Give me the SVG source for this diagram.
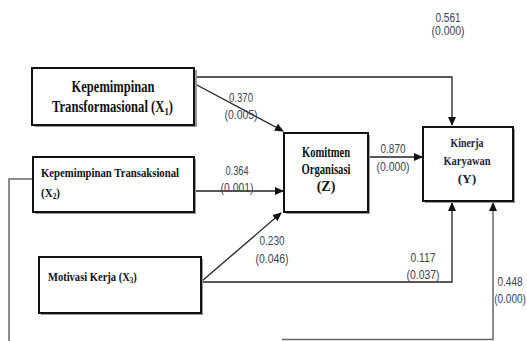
<svg xmlns="http://www.w3.org/2000/svg" width="527" height="341" viewBox="0 0 527 341">
<defs>
<marker id="arr" markerWidth="9" markerHeight="8" refX="8" refY="4" orient="auto" markerUnits="userSpaceOnUse">
<path d="M0,0 L9,4 L0,8 Z" fill="#111"/>
</marker>
<style>
.shadow{fill:#9a9a9a;}
.box{fill:#fff;stroke:#111;stroke-width:2;}
.bt{font-family:"Liberation Serif","Times New Roman",serif;font-weight:bold;fill:#111;}
.nv{fill:#1c2540;}
.lb{font-family:"Liberation Sans",Arial,sans-serif;font-size:12.5px;fill:#3a4356;text-anchor:middle;}
.c{fill:none;stroke:#222;stroke-width:1.3;}
.g{fill:none;stroke:#666;stroke-width:1.5;}
</style>
</defs>
<rect width="527" height="341" fill="#fff"/>

<g id="connectors">
<polyline class="c" points="195,77 452,77 452,125" marker-end="url(#arr)"/>
<line class="c" x1="195" y1="84" x2="283" y2="131" marker-end="url(#arr)"/>
<line class="c" x1="195" y1="191" x2="283" y2="191" marker-end="url(#arr)"/>
<line class="c" x1="202" y1="281" x2="281" y2="213" marker-end="url(#arr)"/>
<polyline class="c" points="202,282 452,282 452,203" marker-end="url(#arr)"/>
<line class="c" x1="368" y1="157" x2="422" y2="157" marker-end="url(#arr)"/>
<polyline class="g" points="33,179 9,179 9,341"/>
<polyline class="g" points="282,339.5 493,339.5 493,203" marker-end="url(#arr)"/>
</g>

<g id="labels">
<text class="lb" x="448" y="22" textLength="25" lengthAdjust="spacingAndGlyphs">0.561</text>
<text class="lb" x="448" y="35" textLength="33" lengthAdjust="spacingAndGlyphs">(0.000)</text>
<text class="lb" x="241" y="102" textLength="24" lengthAdjust="spacingAndGlyphs">0.370</text>
<text class="lb" x="241" y="119" textLength="33" lengthAdjust="spacingAndGlyphs">(0.005)</text>
<text class="lb" x="237" y="175" textLength="23" lengthAdjust="spacingAndGlyphs">0.364</text>
<text class="lb" x="237" y="192" textLength="33" lengthAdjust="spacingAndGlyphs">(0.001)</text>
<text class="lb" x="393" y="153" textLength="25" lengthAdjust="spacingAndGlyphs">0.870</text>
<text class="lb" x="393" y="171" textLength="33" lengthAdjust="spacingAndGlyphs">(0.000)</text>
<text class="lb" x="272" y="245" textLength="25" lengthAdjust="spacingAndGlyphs">0.230</text>
<text class="lb" x="272" y="263" textLength="33" lengthAdjust="spacingAndGlyphs">(0.046)</text>
<text class="lb" x="423" y="262" textLength="25" lengthAdjust="spacingAndGlyphs">0.117</text>
<text class="lb" x="423" y="279" textLength="33" lengthAdjust="spacingAndGlyphs">(0.037)</text>
<text class="lb" transform="translate(510,286) scale(0.8,1)">0.448</text>
<text class="lb" transform="translate(510,303) scale(0.8,1)">(0.000)</text>
</g>

<g id="x1">
<rect class="shadow" x="34" y="70" width="163" height="57"/>
<rect class="box" x="32" y="68" width="162" height="57"/>
<text class="bt" x="113" y="92" font-size="16" text-anchor="middle" textLength="83" lengthAdjust="spacingAndGlyphs">Kepemimpinan</text>
<text class="bt" transform="translate(52,112) scale(0.79,1)" font-size="16">Transformasional (X<tspan font-size="11" dy="3">1</tspan><tspan dy="-3">)</tspan></text>
</g>

<g id="x2">
<rect class="shadow" x="35" y="159" width="161" height="55"/>
<rect class="box" x="33" y="157" width="161" height="55"/>
<text class="bt" x="41" y="177" font-size="13.5" textLength="138" lengthAdjust="spacingAndGlyphs">Kepemimpinan Transaksional</text>
<text class="bt" transform="translate(41,197) scale(0.82,1)" font-size="13.5">(X<tspan font-size="9" dy="2">2</tspan><tspan dy="-2">)</tspan></text>
</g>

<g id="x3">
<rect class="shadow" x="41" y="259" width="162" height="56"/>
<rect class="box" x="39" y="257" width="162" height="56"/>
<text class="bt" transform="translate(48,281) scale(0.78,1)" font-size="13.5">Motivasi Kerja (X<tspan font-size="9" dy="2">3</tspan><tspan dy="-2">)</tspan></text>
</g>

<g id="z">
<rect class="shadow" x="286" y="135" width="84" height="79"/>
<rect class="box" x="284" y="133" width="84" height="79"/>
<text class="bt" x="326" y="157" font-size="14" text-anchor="middle" textLength="48" lengthAdjust="spacingAndGlyphs">Komitmen</text>
<text class="bt" x="326" y="174" font-size="14" text-anchor="middle" textLength="49" lengthAdjust="spacingAndGlyphs">Organisasi</text>
<text class="bt" x="326" y="191" font-size="14" text-anchor="middle">(Z)</text>
</g>

<g id="y">
<rect class="shadow" x="425" y="129" width="90" height="74"/>
<rect class="box" x="423" y="127" width="90" height="74"/>
<text class="bt nv" x="467" y="147" font-size="13.5" text-anchor="middle" textLength="33" lengthAdjust="spacingAndGlyphs">Kinerja</text>
<text class="bt nv" x="467" y="165" font-size="13.5" text-anchor="middle" textLength="47" lengthAdjust="spacingAndGlyphs">Karyawan</text>
<text class="bt nv" x="467" y="183" font-size="13.5" text-anchor="middle">(Y)</text>
</g>
</svg>
